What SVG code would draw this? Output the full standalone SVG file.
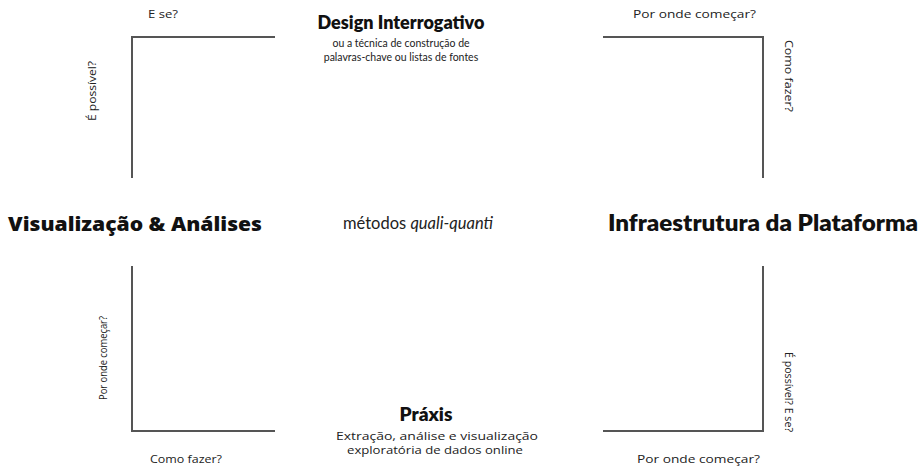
<svg xmlns="http://www.w3.org/2000/svg" width="922" height="468" viewBox="0 0 922 468">
<style>
.ln{fill:none;stroke:#555;stroke-width:2}
.h{font-family:Lato,"Open Sans",sans-serif;font-weight:800;fill:#111}
.s{font-family:Lato,"Open Sans",sans-serif;font-size:10.5px;fill:#222}
.w{font-family:"Open Sans",Lato,sans-serif;font-size:11.5px;fill:#222}
.q{font-family:"Open Sans",Lato,sans-serif;font-size:11px;fill:#222}
</style>
<rect width="922" height="468" fill="#fff"/>
<g id="connectors">
<polyline class="ln" points="275,37 132,37 132,178"/>
<polyline class="ln" points="603,37 763,37 763,178"/>
<polyline class="ln" points="132,266 132,431 275,431"/>
<polyline class="ln" points="763,266 763,431 603,431"/>
</g>
<g id="design">
<text class="h" x="401" y="29" font-size="18" text-anchor="middle">Design Interrogativo</text>
<text class="s" x="401" y="47" text-anchor="middle">ou a técnica de construção de</text>
<text class="s" x="401" y="61" text-anchor="middle">palavras-chave ou listas de fontes</text>
</g>
<g id="visualizacao">
<text x="8" y="231" font-family="'Open Sans',Lato,sans-serif" font-weight="800" font-size="20" fill="#111" textLength="254" lengthAdjust="spacingAndGlyphs">Visualização &amp; Análises</text>
</g>
<g id="metodos">
<text x="418" y="229" font-family="Lato,'Open Sans',sans-serif" font-size="16.5" fill="#222" text-anchor="middle">métodos <tspan font-style="italic">quali-quanti</tspan></text>
</g>
<g id="infraestrutura">
<text class="h" x="608" y="231" font-size="22" textLength="310" lengthAdjust="spacingAndGlyphs">Infraestrutura da Plataforma</text>
</g>
<g id="praxis">
<text class="h" x="426" y="421" font-size="19" text-anchor="middle">Práxis</text>
<text class="w" x="336" y="440" textLength="202" lengthAdjust="spacingAndGlyphs">Extração, análise e visualização</text>
<text class="w" x="347" y="454" textLength="176" lengthAdjust="spacingAndGlyphs">exploratória de dados online</text>
</g>
<g id="labels">
<text class="q" x="148" y="18" textLength="30" lengthAdjust="spacingAndGlyphs">E se?</text>
<text class="q" x="633" y="18" textLength="123" lengthAdjust="spacingAndGlyphs">Por onde começar?</text>
<text class="q" transform="translate(785,40) rotate(90)" textLength="72" lengthAdjust="spacingAndGlyphs">Como fazer?</text>
<text class="q" transform="translate(96,121) rotate(-90)" textLength="60" lengthAdjust="spacingAndGlyphs">É possível?</text>
<text class="q" transform="translate(107,400) rotate(-90)" textLength="84" lengthAdjust="spacingAndGlyphs">Por onde começar?</text>
<text class="q" x="150" y="463" textLength="72" lengthAdjust="spacingAndGlyphs">Como fazer?</text>
<text class="q" transform="translate(785,352) rotate(90)" textLength="80" lengthAdjust="spacingAndGlyphs">É possível? E se?</text>
<text class="q" x="637" y="463" textLength="123" lengthAdjust="spacingAndGlyphs">Por onde começar?</text>
</g>
</svg>
